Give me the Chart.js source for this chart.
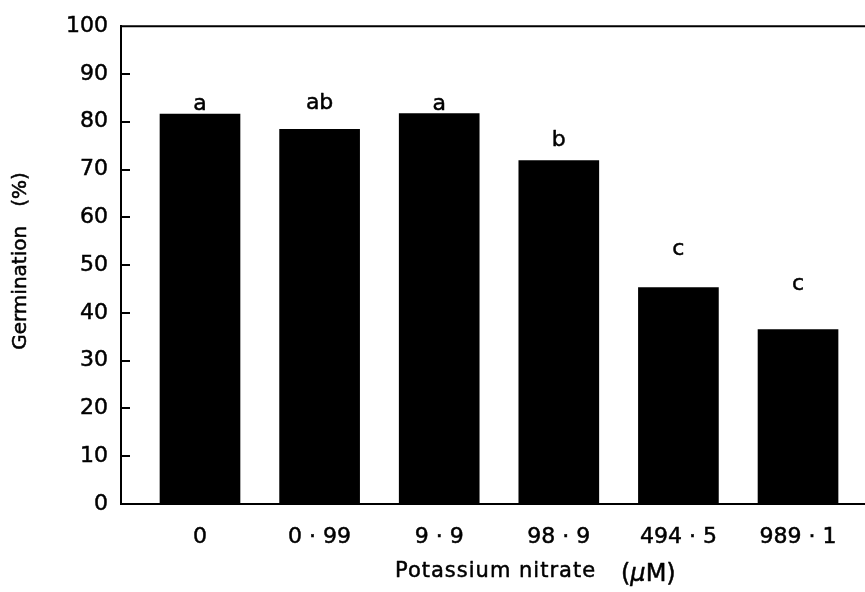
<!DOCTYPE html>
<html>
<head>
<meta charset="utf-8">
<title>Germination vs potassium nitrate</title>
<script src="https://cdn.jsdelivr.net/npm/chart.js@4.4.1/dist/chart.umd.min.js"></script>
<style>
  html, body { margin: 0; padding: 0; background: #ffffff; overflow: hidden; }
  #wrap { width: 890px; height: 592px; position: relative; }
</style>
</head>
<body>
<div id="wrap"><canvas id="chart"></canvas></div>
<script>
// Treatment concentrations (µM) shown under each bar
const categories = ['0', '0 · 99', '9 · 9', '98 · 9', '494 · 5', '989 · 1'];
// Mean germination (%) per treatment
const germination = [81.6, 78.4, 81.7, 71.9, 45.3, 36.5];
// Significance letters and the level (in %) of their baseline
const letters = ['a', 'ab', 'a', 'b', 'c', 'c'];
const letterLevels = [82.5, 82.7, 82.5, 75.0, 52.2, 44.7];
// Y-axis tick values
const yTicks = [0, 10, 20, 30, 40, 50, 60, 70, 80, 90, 100];

const FONT = '"DejaVu Sans", sans-serif';
const INK = '#000';
const STROKE = 0.5;

function ink(ctx, text, x, y) {
  ctx.fillText(text, x, y);
  ctx.strokeText(text, x, y);
}

const framePlugin = {
  id: 'frame',
  afterDraw(chart) {
    const { ctx, chartArea, scales } = chart;
    const y = scales.y, x = scales.x;
    ctx.save();
    ctx.strokeStyle = INK;
    ctx.lineWidth = 2;
    // top border
    ctx.beginPath();
    ctx.moveTo(chartArea.left, chartArea.top);
    ctx.lineTo(chartArea.right, chartArea.top);
    ctx.stroke();
    // inward y tick marks
    yTicks.forEach(v => {
      if (v === 0 || v === 100) return;
      const py = Math.round(y.getPixelForValue(v));
      ctx.beginPath();
      ctx.moveTo(chartArea.left, py);
      ctx.lineTo(chartArea.left + 9, py);
      ctx.stroke();
    });
    // text styling shared by letters and titles
    ctx.fillStyle = INK;
    ctx.lineWidth = STROKE;
    ctx.lineJoin = 'round';
    // significance letters
    ctx.font = '22px ' + FONT;
    ctx.textAlign = 'center';
    ctx.textBaseline = 'alphabetic';
    letters.forEach((t, i) => {
      ink(ctx, t, x.getPixelForValue(i), y.getPixelForValue(letterLevels[i]));
    });
    // y title
    ctx.save();
    ctx.translate(21, 261);
    ctx.rotate(-Math.PI / 2);
    ctx.font = '20px ' + FONT;
    ctx.textAlign = 'center';
    ctx.textBaseline = 'middle';
    ink(ctx, 'Germination   (%)', 0, 0);
    ctx.restore();
    // x title
    ctx.textAlign = 'left';
    ctx.font = '21px ' + FONT;
    ctx.letterSpacing = '1px';
    ink(ctx, 'Potassium nitrate', 395, 577);
    ctx.letterSpacing = '0px';
    ctx.font = '24px ' + FONT;
    ink(ctx, '(', 621, 581);
    let cx = 621 + ctx.measureText('(').width;
    ctx.font = 'italic 24px ' + FONT;
    ink(ctx, 'µ', cx, 581);
    cx += ctx.measureText('µ').width;
    ctx.font = '24px ' + FONT;
    ink(ctx, 'M)', cx, 581);
    ctx.restore();
  }
};

new Chart(document.getElementById('chart'), {
  type: 'bar',
  data: {
    datasets: [{
      data: germination.map((v, i) => ({ x: i, y: v })),
      backgroundColor: INK,
      borderWidth: 0,
      barThickness: 80
    }]
  },
  options: {
    responsive: true,
    maintainAspectRatio: false,
    animation: false,
    devicePixelRatio: 1,
    layout: { padding: { top: 19, left: 0, right: 0, bottom: 0 } },
    plugins: { legend: { display: false }, tooltip: { enabled: false } },
    scales: {
      x: {
        type: 'linear',
        offset: false,
        min: -0.6605,
        max: 5.769,
        grid: { display: false, drawTicks: false },
        border: { display: true, color: INK, width: 2 },
        afterBuildTicks(scale) { scale.ticks = categories.map((_, i) => ({ value: i })); },
        afterFit(scale) { scale.height = 88; },
        ticks: {
          autoSkip: false,
          maxRotation: 0,
          padding: 20,
          color: INK,
          textStrokeColor: INK,
          textStrokeWidth: STROKE,
          font: { family: FONT, size: 22 },
          callback: (v) => categories[v]
        }
      },
      y: {
        min: 0,
        max: 100,
        grid: { display: false, drawTicks: false },
        border: { display: true, color: INK, width: 2 },
        afterBuildTicks(scale) { scale.ticks = yTicks.map(v => ({ value: v })); },
        afterFit(scale) { scale.width = 121; },
        ticks: {
          padding: 13,
          color: INK,
          textStrokeColor: INK,
          textStrokeWidth: STROKE,
          font: { family: FONT, size: 22 }
        }
      }
    }
  },
  plugins: [framePlugin]
});
</script>
</body>
</html>
